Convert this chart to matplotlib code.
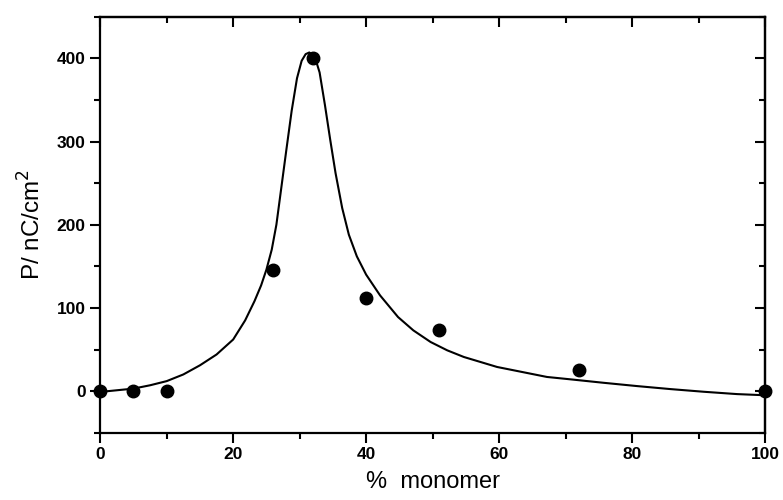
import matplotlib
matplotlib.use("Agg")
import matplotlib.pyplot as plt
from matplotlib.ticker import MultipleLocator

# measured points
pts_x = [0, 5, 10, 26, 32, 40, 51, 72, 100]
pts_y = [0, 0, 0, 146, 400, 112, 73, 25, 0]

# fitted curve
curve_x = [0, 2.5, 5, 7.5, 10, 12.5, 15, 17.5, 20, 21.8, 23.2, 24.2, 25.0, 25.8,
           26.5, 27.2, 28.0, 28.8, 29.6, 30.3, 30.9, 31.45, 32.0, 32.5, 33.0,
           33.8, 34.6, 35.4, 36.4, 37.4, 38.6, 40.0, 42.1, 44.8, 47.1, 49.7, 52.2,
           54.7, 57.2, 59.7, 62.2, 64.7, 67.2, 70.9, 75.7, 80.8, 85.8, 90.8,
           95.8, 100]
curve_y = [-1, 1, 3, 7, 12, 20, 31, 44, 62, 85, 108, 127, 146, 170,
           200, 242, 290, 337, 376, 397, 405, 407, 404, 396, 383,
           344, 302, 262, 220, 188, 162, 140, 115, 89, 73, 59, 49,
           41, 35, 29, 25, 21, 17, 14, 10, 6, 2.4, -0.8,
           -3.6, -5]

xticks = [0, 20, 40, 60, 80, 100]
yticks = [0, 100, 200, 300, 400]

fig = plt.figure(figsize=(7.83, 5.0), dpi=100)
ax = fig.add_axes([0.128, 0.1346, 0.849, 0.832])

ax.plot(curve_x, curve_y, color="black", lw=1.5, solid_joinstyle="round")
ax.plot(pts_x, pts_y, "o", color="black", ms=9, clip_on=False, zorder=5)

ax.set_xlim(0, 100)
ax.set_ylim(-50, 450)
ax.set_xticks(xticks)
ax.set_yticks(yticks)
ax.xaxis.set_minor_locator(MultipleLocator(10))
ax.yaxis.set_minor_locator(MultipleLocator(50))

for s in ax.spines.values():
    s.set_linewidth(1.6)

ax.tick_params(which="both", direction="out", width=1.5, top=False, right=False)
ax.tick_params(which="major", length=7)
ax.tick_params(which="minor", length=4)

# inward mirror ticks on top and right
axt = ax.secondary_xaxis("top")
axt.set_xticks(xticks)
axt.xaxis.set_minor_locator(MultipleLocator(10))
axt.tick_params(which="both", direction="in", width=1.5, labeltop=False)
axt.tick_params(which="major", length=7)
axt.tick_params(which="minor", length=4)
axr = ax.secondary_yaxis("right")
axr.set_yticks(yticks)
axr.yaxis.set_minor_locator(MultipleLocator(50))
axr.tick_params(which="both", direction="in", width=1.5, labelright=False)
axr.tick_params(which="major", length=7)
axr.tick_params(which="minor", length=4)
for sa in (axt, axr):
    for s in sa.spines.values():
        s.set_linewidth(1.6)

for lab in ax.get_xticklabels() + ax.get_yticklabels():
    lab.set_fontfamily("Liberation Sans")
    lab.set_fontweight("bold")
    lab.set_fontsize(12.5)

ax.set_xlabel("%  monomer", fontfamily="Liberation Sans", fontsize=17, labelpad=6)
ax.set_ylabel("P/ nC/cm$^2$", fontfamily="Liberation Sans", fontsize=17.5, labelpad=8)

fig.savefig("out.png", dpi=100)
